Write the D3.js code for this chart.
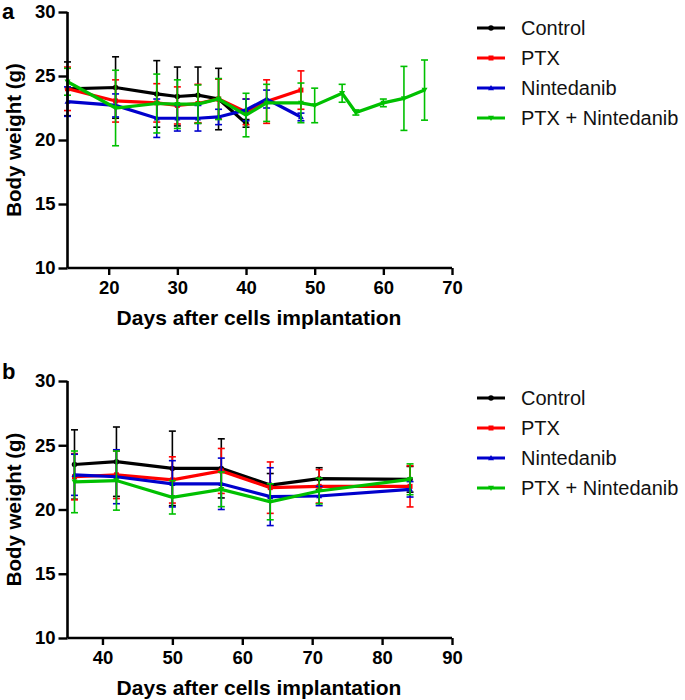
<!DOCTYPE html>
<html><head><meta charset="utf-8">
<script src="https://cdn.jsdelivr.net/npm/d3@7"></script>
<style>body{margin:0;background:#fff}svg{display:block;font-family:"Liberation Sans",Arial,sans-serif}</style>
</head><body><svg id="c" width="685" height="700"></svg>
<script>
const seriesNames = ["Control","PTX","Nintedanib","PTX + Nintedanib"];
const seriesColors = ["#000000","#ff0000","#0000cc","#00c000"];
const seriesSymbols = ["circle","square","triUp","triDown"];

// Panel a
const daysA_control = [14,21,27,30,33,36,40];
const meanA_control = [24.0,24.1,23.6,23.4,23.5,23.2,21.3];
const sdA_control   = [2.1,2.4,2.6,2.3,2.2,2.4,0.3];
const daysA_ptx = [14,21,27,30,33,36,40,43,48];
const meanA_ptx = [24.0,23.05,22.9,22.7,22.85,23.2,22.2,23.0,23.9];
const sdA_ptx   = [1.7,1.65,1.5,1.45,1.5,1.55,1.0,1.7,1.5];
const daysA_nin = [14,21,27,30,33,36,40,43,48];
const meanA_nin = [23.0,22.7,21.7,21.7,21.7,21.8,22.35,23.2,21.8];
const sdA_nin   = [1.15,0.9,1.5,1.0,1.0,0.6,0.85,0.7,0.3];
const daysA_combo = [14,21,27,30,33,36,40,43,48,50,54,56,60,63,66];
const meanA_combo = [24.55,22.5,22.85,22.8,22.8,23.2,21.95,22.9,22.9,22.7,23.65,22.15,22.9,23.25,23.9];
const sdA_combo   = [1.05,2.95,2.3,1.9,1.5,1.6,1.7,1.45,1.55,1.35,0.7,0.2,0.3,2.5,2.35];

// Panel b
const daysB = [36,42,50,57,64,71,84];
const meanB_control = [23.5,23.72,23.2,23.2,21.9,22.4,22.35];
const sdB_control   = [2.7,2.7,2.9,2.3,0.9,0.85,1.0];
const meanB_ptx = [22.55,22.7,22.3,23.0,21.7,21.8,21.8];
const sdB_ptx   = [1.8,1.85,1.8,1.75,2.0,1.3,1.6];
const meanB_nin = [22.7,22.55,22.0,22.0,21.0,21.05,21.57];
const sdB_nin   = [1.6,2.1,1.8,2.0,2.25,0.75,0.6];
const meanB_combo = [22.15,22.25,20.95,21.57,20.6,21.44,22.35];
const sdB_combo   = [2.4,2.3,1.3,1.35,1.4,1.0,1.2];

const yTicks = [10,15,20,25,30];
const xTicksA = [20,30,40,50,60,70];
const xTicksB = [40,50,60,70,80,90];

const svg = d3.select("#c");

function sym(g, type, x, y, color, s){
  if(type==="circle") g.append("circle").attr("cx",x).attr("cy",y).attr("r",s*0.55).attr("fill",color);
  else if(type==="square") g.append("rect").attr("x",x-s/2).attr("y",y-s/2).attr("width",s).attr("height",s).attr("fill",color);
  else if(type==="triUp") g.append("path").attr("d",`M${x},${y-s*0.6}L${x+s*0.6},${y+s*0.45}L${x-s*0.6},${y+s*0.45}Z`).attr("fill",color);
  else g.append("path").attr("d",`M${x},${y+s*0.6}L${x+s*0.6},${y-s*0.45}L${x-s*0.6},${y-s*0.45}Z`).attr("fill",color);
}

function panel(opt){
  const g = svg.append("g");
  const x = d3.scaleLinear().domain(opt.xDomain).range([67.5, 452]);
  const y = d3.scaleLinear().domain([10,30]).range([opt.yBottom, opt.yTop]);

  opt.series.forEach((s,i)=>{
    const col = seriesColors[i];
    const sg = g.append("g");
    const pts = s.days.map((d,k)=>({d, m:s.mean[k], e:s.sd[k]}));
    pts.forEach(p=>{
      const px = x(p.d), y1=y(p.m+p.e), y2=y(p.m-p.e);
      sg.append("line").attr("x1",px).attr("x2",px).attr("y1",y1).attr("y2",y2).attr("stroke",col).attr("stroke-width",1.6);
      [y1,y2].forEach(yy=>sg.append("line").attr("x1",px-3.5).attr("x2",px+3.5).attr("y1",yy).attr("y2",yy).attr("stroke",col).attr("stroke-width",1.6));
    });
    sg.append("path").datum(pts)
      .attr("d", d3.line().x(p=>x(p.d)).y(p=>y(p.m)))
      .attr("fill","none").attr("stroke",col).attr("stroke-width",3.2);
    pts.forEach(p=>sym(sg, seriesSymbols[i], x(p.d), y(p.m), col, 5));
  });

  const ya = g.append("g").attr("transform","translate(67.5,0)")
    .call(d3.axisLeft(y).tickValues(yTicks).tickSize(9).tickPadding(3));
  const xa = g.append("g").attr("transform",`translate(0,${opt.yBottom})`)
    .call(d3.axisBottom(x).tickValues(opt.xTicks).tickSize(7).tickPadding(6));
  [ya,xa].forEach(a=>{
    a.select(".domain").attr("stroke","#000").attr("stroke-width",2.6);
    a.selectAll(".tick line").attr("stroke","#000").attr("stroke-width",2.4);
    a.selectAll(".tick text").attr("fill","#000").style("font-size","18.5px").style("font-weight","bold").style("font-family",'"Liberation Sans",Arial,sans-serif');
  });
  xa.select(".domain").attr("d",`M67.5,0H452`);
  ya.select(".domain").attr("d",`M0,${opt.yTop}V${opt.yBottom}`);

  g.append("text").attr("x",2).attr("y",opt.letterY).text(opt.letter)
    .style("font-size","22px").style("font-weight","bold");
  g.append("text").attr("transform",`translate(21,${(opt.yTop+opt.yBottom)/2}) rotate(-90)`)
    .attr("text-anchor","middle").text("Body weight (g)")
    .style("font-size","20.5px").style("font-weight","bold");
  g.append("text").attr("x",259).attr("y",opt.yBottom+57).attr("text-anchor","middle")
    .text("Days after cells implantation").style("font-size","21px").style("font-weight","bold");

  const lg = g.append("g");
  seriesNames.forEach((n,i)=>{
    const ly = opt.legendY + i*30;
    lg.append("line").attr("x1",477).attr("x2",505).attr("y1",ly).attr("y2",ly).attr("stroke",seriesColors[i]).attr("stroke-width",3);
    sym(lg, seriesSymbols[i], 491, ly, seriesColors[i], 5);
    lg.append("text").attr("x",521).attr("y",ly+7).text(n).style("font-size","20px").attr("fill","#111");
  });
}

panel({
  xDomain:[14,70], xTicks:xTicksA, yTop:12, yBottom:268, letter:"a", letterY:19, legendY:28,
  series:[
    {days:daysA_control, mean:meanA_control, sd:sdA_control},
    {days:daysA_ptx, mean:meanA_ptx, sd:sdA_ptx},
    {days:daysA_nin, mean:meanA_nin, sd:sdA_nin},
    {days:daysA_combo, mean:meanA_combo, sd:sdA_combo}
  ]
});
panel({
  xDomain:[35,90], xTicks:xTicksB, yTop:381, yBottom:638, letter:"b", letterY:379, legendY:398,
  series:[
    {days:daysB, mean:meanB_control, sd:sdB_control},
    {days:daysB, mean:meanB_ptx, sd:sdB_ptx},
    {days:daysB, mean:meanB_nin, sd:sdB_nin},
    {days:daysB, mean:meanB_combo, sd:sdB_combo}
  ]
});
</script></body></html>
